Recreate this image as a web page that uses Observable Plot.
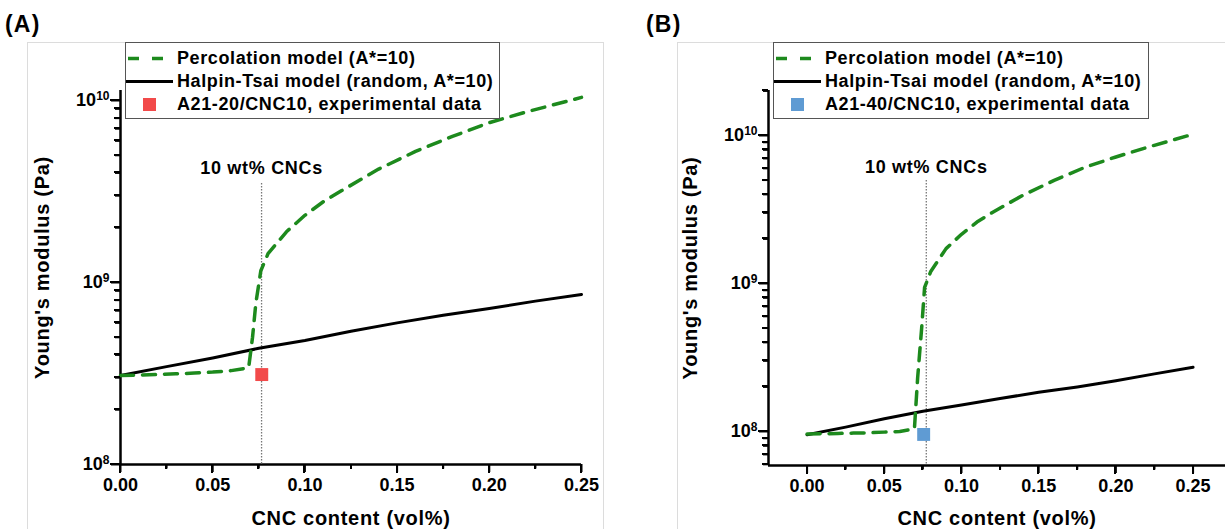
<!DOCTYPE html>
<html>
<head>
<meta charset="utf-8">
<script src="https://cdn.jsdelivr.net/npm/d3@7"></script>
<script src="https://cdn.jsdelivr.net/npm/@observablehq/plot@0.6"></script>
<style>
  html, body { margin: 0; padding: 0; background: #fff; }
  #root { position: relative; width: 1225px; height: 529px; overflow: hidden;
          font-family: "Liberation Sans", Arial, sans-serif; font-weight: bold; color: #000; }
  .page { position: absolute; border: 1px solid #dcdcdc; border-bottom: none; }
  .panel { position: absolute; top: 0; }
  .tk { position: absolute; background: #000; z-index: 5; }
  .tag { position: absolute; top: 11px; font-size: 23px; letter-spacing: 1.2px; }
  .legend { position: absolute; top: 42px; height: 75px; border: 1.5px solid #555; background: #fff; box-sizing: content-box; z-index: 6; }
  .row { position: absolute; left: 0; height: 23px; width: 100%; }
  .row svg { position: absolute; left: 0; top: 0; }
  .row span { position: absolute; left: 51px; top: 1px; font-size: 18px; letter-spacing: 0.6px; line-height: 20px; white-space: nowrap; }
</style>
</head>
<body>
<div id="root"></div>
<script>
// ---------------- data ----------------
const xMajor = [0, 0.05, 0.10, 0.15, 0.20, 0.25];
const xMinorA = [0.025, 0.075, 0.125, 0.175, 0.225];
const xMinorB = [0.025, 0.075, 0.125, 0.175, 0.225];
const yMajor = [1e8, 1e9, 1e10];
const yMinorA = [2e8, 3e8, 4e8, 5e8, 6e8, 7e8, 8e8, 9e8, 2e9, 3e9, 4e9, 5e9, 6e9, 7e9, 8e9, 9e9];
const yMinorB = [6e7, 7e7, 8e7, 9e7, 2e8, 3e8, 4e8, 5e8, 6e8, 7e8, 8e8, 9e8, 2e9, 3e9, 4e9, 5e9, 6e9, 7e9, 8e9, 9e9, 2e10];

// Panel A
const percA_x = [0, 0.01, 0.02, 0.03, 0.04, 0.05, 0.06, 0.0695, 0.0716, 0.0734, 0.0761, 0.08, 0.09, 0.10, 0.11, 0.12, 0.14, 0.16, 0.18, 0.20, 0.22, 0.25];
const percA_y = [3.08e8, 3.10e8, 3.12e8, 3.15e8, 3.18e8, 3.22e8, 3.28e8, 3.40e8, 5.0e8, 7.7e8, 1.16e9, 1.44e9, 1.9e9, 2.34e9, 2.78e9, 3.2e9, 4.2e9, 5.25e9, 6.35e9, 7.55e9, 8.65e9, 1.04e10];
const htA_x = [0, 0.025, 0.05, 0.075, 0.10, 0.125, 0.15, 0.175, 0.20, 0.225, 0.25];
const htA_y = [3.08e8, 3.45e8, 3.85e8, 4.35e8, 4.8e8, 5.4e8, 6.0e8, 6.6e8, 7.2e8, 7.9e8, 8.6e8];
const expA_x = [0.0766];
const expA_y = [3.12e8];

// Panel B
const percB_x = [0, 0.01, 0.02, 0.03, 0.04, 0.05, 0.06, 0.0695, 0.0716, 0.0742, 0.0761, 0.08, 0.09, 0.10, 0.11, 0.12, 0.14, 0.16, 0.18, 0.20, 0.22, 0.25];
const percB_y = [9.6e7, 9.65e7, 9.7e7, 9.75e7, 9.8e7, 9.9e7, 1.0e8, 1.04e8, 2.3e8, 5.0e8, 9.4e8, 1.2e9, 1.72e9, 2.15e9, 2.6e9, 3.02e9, 3.96e9, 4.97e9, 6.1e9, 7.16e9, 8.3e9, 1.02e10];
const htB_x = [0, 0.025, 0.05, 0.075, 0.10, 0.125, 0.15, 0.175, 0.20, 0.225, 0.25];
const htB_y = [9.5e7, 1.07e8, 1.22e8, 1.37e8, 1.51e8, 1.67e8, 1.84e8, 2.0e8, 2.2e8, 2.45e8, 2.72e8];
const expB_x = [0.0755];
const expB_y = [9.55e7];

// annotation (10 wt% CNCs) positions in data units
const markA = {x: 0.0765, yTop: 3.5e9, labelY: 4.25e9};
const markB = {x: 0.0772, yTop: 4.97e9, labelY: 6.1e9};

const legendLabels = ["Percolation model (A*=10)", "Halpin-Tsai model (random, A*=10)"];
const expLabelA = "A21-20/CNC10, experimental data";
const expLabelB = "A21-40/CNC10, experimental data";

const GREEN = "#1d8a1d";
const RED = "#f24a4a";
const BLUE = "#5f9bd3";
const FONT = "'Liberation Sans', Arial, sans-serif";

function zip(xs, ys) { return xs.map((x, i) => ({x, y: ys[i]})); }

function makePanel(o) {
  const x0 = o.xDomain[0], y0 = o.yDomain[0];
  const svg = Plot.plot({
    width: o.width, height: 529,
    marginLeft: o.ml, marginRight: o.mr, marginTop: 90, marginBottom: o.mb,
    style: {fontFamily: FONT, fontWeight: "bold", fontSize: "18px", color: "#000"},
    x: {domain: o.xDomain},
    y: {type: "log", domain: o.yDomain},
    marks: [
      Plot.axisX({ticks: xMajor, tickSize: 8, tickPadding: 6, strokeWidth: 2, stroke: "#000", tickFormat: d3.format(".2f"), label: null}),
      Plot.axisX({ticks: o.xMinor, tickSize: 4.5, strokeWidth: 2, stroke: "#000", tickFormat: () => "", label: null}),
      Plot.axisY({ticks: yMajor, tickSize: 9, tickPadding: 2, strokeWidth: 2, stroke: "#000", tickFormat: d => "10^" + Math.round(Math.log10(d)), label: null}),
      Plot.axisY({ticks: o.yMinor, tickSize: 5, strokeWidth: 2, stroke: "#000", tickFormat: () => "", label: null}),
      Plot.ruleX([x0], {stroke: "#000", strokeWidth: 2.5}),
      Plot.ruleY([y0], {stroke: "#000", strokeWidth: 2.5}),
      Plot.ruleX([o.mark], {x: "x", y1: "yTop", y2: y0, stroke: "#777", strokeWidth: 1.3, strokeDasharray: "1.5,1.5"}),
      Plot.text([o.mark], {x: "x", y: "labelY", text: () => "10 wt% CNCs", fontSize: 18, fontWeight: "bold", fill: "#000"}),
      Plot.line(zip(o.htX, o.htY), {x: "x", y: "y", stroke: "#000", strokeWidth: 3}),
      Plot.line(zip(o.pX, o.pY), {x: "x", y: "y", stroke: GREEN, strokeWidth: 3.5, strokeDasharray: "13,9"}),
      Plot.dot(zip(o.eX, o.eY), {x: "x", y: "y", symbol: "square", r: 7.3, fill: o.color, stroke: "none"}),
      Plot.text(["CNC content (vol%)"], {frameAnchor: "bottom", textAnchor: "middle", lineAnchor: "middle", dy: o.xLabelDy, fontSize: 20, fontWeight: "bold"}),
      Plot.text(["Young's modulus (Pa)"], {frameAnchor: "left", textAnchor: "middle", lineAnchor: "middle", dx: -78, dy: -10, rotate: -90, fontSize: 20, fontWeight: "bold"})
    ]
  });
  svg.querySelectorAll("text").forEach(t => {
    const m = /^10\^(\d+)$/.exec(t.textContent);
    if (m) {
      t.textContent = "";
      const a = document.createElementNS("http://www.w3.org/2000/svg", "tspan");
      a.textContent = "10";
      const b = document.createElementNS("http://www.w3.org/2000/svg", "tspan");
      b.textContent = m[1];
      b.setAttribute("dy", "-0.5em");
      b.setAttribute("font-size", "12px");
      t.appendChild(a); t.appendChild(b);
    } else if (/CNC|Young/.test(t.textContent)) {
      t.setAttribute("letter-spacing", "0.7px");
    }
  });
  return svg;
}

// outward tick marks positioned through the plot's own scales
function addTicks(panel, svg, o) {
  const sx = svg.scale("x"), sy = svg.scale("y");
  const px0 = sx.apply(o.xDomain[0]), py0 = sy.apply(o.yDomain[0]);
  const add = (l, t, w, h) => {
    const d = document.createElement("div");
    d.className = "tk";
    d.style.left = l + "px"; d.style.top = t + "px";
    d.style.width = w + "px"; d.style.height = h + "px";
    panel.appendChild(d);
  };
  xMajor.forEach(v => add(sx.apply(v) - 1, py0, 2, 9));
  o.xMinor.forEach(v => add(sx.apply(v) - 1, py0, 2, 5));
  yMajor.forEach(v => add(px0 - 10, sy.apply(v) - 1, 10, 2));
  o.yMinor.forEach(v => add(px0 - 6, sy.apply(v) - 1, 6, 2));
}

const root = document.getElementById("root");
root.innerHTML = `
  <div class="page" style="left:27px; top:42px; width:575px; height:500px"></div>
  <div class="page" style="left:677px; top:42px; width:560px; height:500px"></div>
  <div class="tag" style="left:5px">(A)</div>
  <div class="tag" style="left:646px">(B)</div>`;

function buildPanel(left, o) {
  const p = document.createElement("div");
  p.className = "panel"; p.style.left = left + "px";
  p.style.width = o.width + "px"; p.style.height = "529px";
  const svg = makePanel(o);
  p.appendChild(svg);
  root.appendChild(p);
  addTicks(p, svg, o);
}

buildPanel(0, {width: 612, ml: 120, mr: 31, mb: 65, xDomain: [0, 0.25], yDomain: [1e8, 1.135e10],
  xMinor: xMinorA, yMinor: yMinorA, htX: htA_x, htY: htA_y, pX: percA_x, pY: percA_y, eX: expA_x, eY: expA_y,
  color: RED, mark: markA, xLabelDy: 54});

buildPanel(612, {width: 613, ml: 156, mr: 0, mb: 64, xDomain: [-0.025, 0.271], yDomain: [5.89e7, 2.014e10],
  xMinor: xMinorB, yMinor: yMinorB, htX: htB_x, htY: htB_y, pX: percB_x, pY: percB_y, eX: expB_x, eY: expB_y,
  color: BLUE, mark: markB, xLabelDy: 53});

function legend(left, width, expLabel, color) {
  const d = document.createElement("div");
  d.className = "legend";
  d.style.left = left + "px"; d.style.width = width + "px";
  const swatches = [
    `<svg width="50" height="23"><line x1="0" x2="48" y1="11.5" y2="11.5" stroke="${GREEN}" stroke-width="3.5" stroke-dasharray="11,13" stroke-dashoffset="-2"/></svg>`,
    `<svg width="50" height="23"><line x1="0" x2="47" y1="11.5" y2="11.5" stroke="#000" stroke-width="3"/></svg>`,
    `<svg width="50" height="23"><rect x="17" y="5" width="13" height="13" fill="${color}"/></svg>`
  ];
  const labels = [legendLabels[0], legendLabels[1], expLabel];
  d.innerHTML = labels.map((l, i) =>
    `<div class="row" style="top:${4 + i * 23}px">${swatches[i]}<span>${l}</span></div>`).join("");
  root.appendChild(d);
}
legend(125, 373, expLabelA, RED);
legend(773, 374, expLabelB, BLUE);
</script>
</body>
</html>
